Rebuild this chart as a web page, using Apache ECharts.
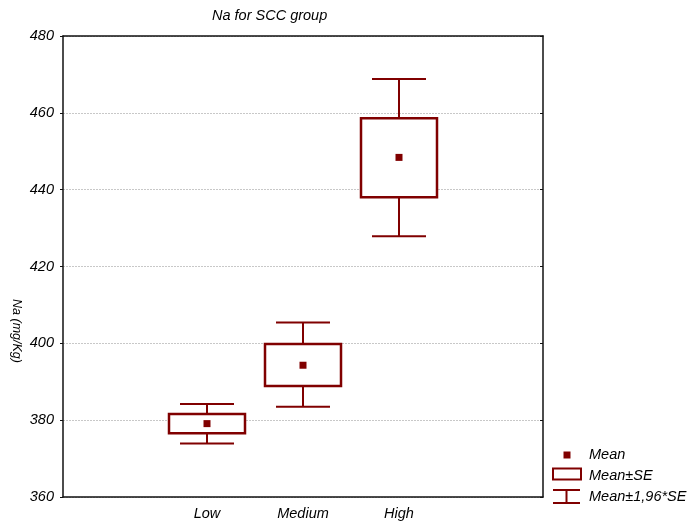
<!DOCTYPE html>
<html>
<head>
<meta charset="utf-8">
<script src="https://cdn.jsdelivr.net/npm/echarts@6/dist/echarts.min.js"></script>
<style>
    html, body { margin: 0; padding: 0; background: #fff; }
    #chart { width: 698px; height: 524px; }
</style>
</head>
<body>
<div id="chart"></div>
<script>
// 数据
const categories = ['', 'Low', 'Medium', 'High', '']
const groups = ['Low', 'Medium', 'High']
const means = [379.1, 394.3, 448.4]
const seLow = [376.6, 388.9, 438.0]
const seHigh = [381.6, 399.8, 458.6]
const ciLow = [373.9, 383.5, 427.9]
const ciHigh = [384.2, 405.4, 468.8]
const yTicks = [360, 380, 400, 420, 440, 460, 480]

const red = '#800000'
const font = 'Liberation Sans, Arial, sans-serif'

// 盒子和须线数据
const boxData = groups.map((g, i) => [g, seLow[i], seHigh[i]])
const whiskerData = groups.map((g, i) => [g, ciLow[i], ciHigh[i]])
const meanData = groups.map((g, i) => [g, means[i]])

var chart = echarts.init(document.getElementById('chart'))

var option = {
    animation: false,
    grid: { left: 63, right: 155, top: 36, bottom: 27 },
    xAxis: [{
        type: 'category',
        data: categories,
        boundaryGap: true,
        axisLine: { lineStyle: { color: '#111', width: 1.5 } },
        axisTick: { alignWithLabel: true, inside: true, length: 3, lineStyle: { color: '#111' } },
        axisLabel: { color: '#000', fontSize: 14.5, fontStyle: 'italic', fontFamily: font, margin: 9 }
    }, {
        type: 'category',
        position: 'top',
        data: categories,
        boundaryGap: true,
        axisLine: { lineStyle: { color: '#111', width: 1.5 } },
        axisTick: { alignWithLabel: true, inside: true, length: 3, lineStyle: { color: '#111' } },
        axisLabel: { show: false }
    }],
    yAxis: [{
        type: 'value',
        min: yTicks[0],
        max: yTicks[yTicks.length - 1],
        interval: 20,
        axisLine: { show: true, lineStyle: { color: '#111', width: 1.5 } },
        axisTick: { show: true, length: 3, lineStyle: { color: '#111' } },
        axisLabel: { color: '#000', fontSize: 14.5, fontStyle: 'italic', fontFamily: font, margin: 9 },
        splitLine: { lineStyle: { color: '#c8c8c8', type: [2, 1], width: 1 } }
    }, {
        type: 'value',
        position: 'right',
        min: yTicks[0],
        max: yTicks[yTicks.length - 1],
        interval: 20,
        axisLine: { show: true, lineStyle: { color: '#111', width: 1.5 } },
        axisTick: { show: true, inside: true, length: 3, lineStyle: { color: '#111' } },
        axisLabel: { show: false },
        splitLine: { show: false }
    }],
    graphic: [
        // 标题
        { type: 'text', left: 212, top: 8, style: { text: 'Na for SCC group', fill: '#000', font: 'italic 14.5px ' + font } },
        // y轴名称
        { type: 'text', x: 16, y: 331, rotation: -Math.PI / 2,
          style: { text: 'Na (mg/Kg)', fill: '#000', font: 'italic 12.5px ' + font, align: 'center', verticalAlign: 'middle' } },
        // 图例
        { type: 'rect', shape: { x: 563.5, y: 451.5, width: 7, height: 7 }, style: { fill: red } },
        { type: 'rect', shape: { x: 553, y: 468.5, width: 28, height: 11 }, style: { fill: '#fff', stroke: red, lineWidth: 2 } },
        { type: 'polyline', shape: { points: [[553, 490], [580, 490]] }, style: { stroke: red, lineWidth: 2 } },
        { type: 'polyline', shape: { points: [[553, 503], [580, 503]] }, style: { stroke: red, lineWidth: 2 } },
        { type: 'polyline', shape: { points: [[566.5, 490], [566.5, 503]] }, style: { stroke: red, lineWidth: 2 } },
        { type: 'text', x: 589, y: 455, style: { text: 'Mean', fill: '#000', font: 'italic 14.5px ' + font, verticalAlign: 'middle' } },
        { type: 'text', x: 589, y: 476, style: { text: 'Mean±SE', fill: '#000', font: 'italic 14.5px ' + font, verticalAlign: 'middle' } },
        { type: 'text', x: 589, y: 497, style: { text: 'Mean±1,96*SE', fill: '#000', font: 'italic 14.5px ' + font, verticalAlign: 'middle' } }
    ],
    series: [
        {
            // 须线 Mean±1,96*SE
            name: 'Mean±1,96*SE',
            type: 'custom',
            data: whiskerData,
            encode: { x: 0, y: [1, 2] },
            renderItem: function (params, api) {
                const lo = api.coord([api.value(0), api.value(1)])
                const hi = api.coord([api.value(0), api.value(2)])
                const half = 27
                const st = { stroke: red, lineWidth: 2 }
                return {
                    type: 'group',
                    children: [
                        { type: 'line', shape: { x1: lo[0], y1: lo[1], x2: hi[0], y2: hi[1] }, style: st },
                        { type: 'line', shape: { x1: lo[0] - half, y1: lo[1], x2: lo[0] + half, y2: lo[1] }, style: st },
                        { type: 'line', shape: { x1: hi[0] - half, y1: hi[1], x2: hi[0] + half, y2: hi[1] }, style: st }
                    ]
                }
            }
        },
        {
            // 盒子 Mean±SE
            name: 'Mean±SE',
            type: 'custom',
            data: boxData,
            encode: { x: 0, y: [1, 2] },
            renderItem: function (params, api) {
                const lo = api.coord([api.value(0), api.value(1)])
                const hi = api.coord([api.value(0), api.value(2)])
                const half = 38
                return {
                    type: 'rect',
                    shape: { x: lo[0] - half, y: hi[1], width: half * 2, height: lo[1] - hi[1] },
                    style: { fill: '#fff', stroke: red, lineWidth: 2.5 }
                }
            }
        },
        {
            name: 'Mean',
            type: 'scatter',
            data: meanData,
            symbol: 'rect',
            symbolSize: 7,
            itemStyle: { color: red, opacity: 1 }
        }
    ]
}
chart.setOption(option)
</script>
</body>
</html>
